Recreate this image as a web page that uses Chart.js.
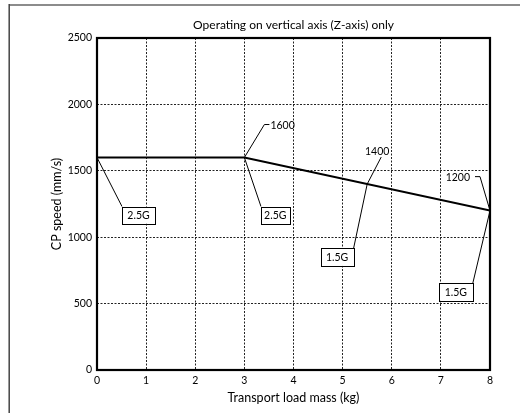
<!DOCTYPE html>
<html>
<head>
<meta charset="utf-8">
<script src="https://cdn.jsdelivr.net/npm/chart.js@4.4.1/dist/chart.umd.min.js"></script>
<style>
  html, body { margin: 0; padding: 0; background: #fff; }
  canvas { display: block; }
</style>
</head>
<body>
<canvas id="chart" width="524" height="413"></canvas>
<script>
// Speed limit curve: transport load mass (kg) vs. CP speed (mm/s)
const massKg = [0, 3, 8];
const cpSpeed = [1600, 1600, 1200];

// Axis ticks
const xTicks = [0, 1, 2, 3, 4, 5, 6, 7, 8];
const yTicks = [0, 500, 1000, 1500, 2000, 2500];

// Speed value callouts
const speedCalloutMass = [3, 5.5, 8];
const speedCalloutValue = [1600, 1400, 1200];

// Acceleration callouts
const accelMass = [0, 3, 5.5, 8];
const accelSpeed = [1600, 1600, 1400, 1200];
const accelLabels = ['2.5G', '2.5G', '1.5G', '1.5G'];

const FONT = 'Lato, "Liberation Sans", sans-serif';

// Leader/label geometry for the value callouts (pixel offsets from the anchor)
const speedCalloutStyle = [
  { elbow: [20, -33], hook: 5, align: 'left', text: [26, -32] },
  { elbow: [14, -27], hook: 0, align: 'center', text: [10, -32] },
  { elbow: [-10, -34], hook: -5, align: 'right', text: [-20, -33] }
];
// Box geometry for the acceleration callouts
const accelStyle = [
  { corner: 'tl', at: [25, 49], w: 33, h: 17 },
  { corner: 'tl', at: [16.6, 49], w: 28.5, h: 17 },
  { corner: 'tr', at: [-13.6, 64.3], w: 33, h: 17.5 },
  { corner: 'tr', at: [-17.2, 72.6], w: 34, h: 17.5 }
];

const framePlugin = {
  id: 'frame',
  beforeDraw(chart) {
    const ctx = chart.ctx;
    ctx.save();
    ctx.strokeStyle = '#8c8c8c';
    ctx.lineWidth = 2;
    ctx.beginPath();
    ctx.moveTo(9, 5);
    ctx.lineTo(520, 5);
    ctx.stroke();
    ctx.strokeStyle = '#444';
    ctx.lineWidth = 1.5;
    ctx.beginPath();
    ctx.moveTo(9.2, 4);
    ctx.lineTo(9.2, 413);
    ctx.stroke();
    ctx.restore();
  },
  beforeDatasetsDraw(chart) {
    const { ctx, chartArea: a } = chart;
    ctx.save();
    ctx.strokeStyle = '#000';
    ctx.lineWidth = 2.2;
    ctx.strokeRect(a.left, a.top, a.right - a.left, a.bottom - a.top);
    ctx.restore();
  }
};

const calloutPlugin = {
  id: 'callouts',
  afterDatasetsDraw(chart) {
    const ctx = chart.ctx;
    const xs = chart.scales.x, ys = chart.scales.y;
    ctx.save();
    ctx.strokeStyle = '#000';
    ctx.fillStyle = '#000';
    ctx.lineWidth = 1;
    ctx.font = '10.5px ' + FONT;
    ctx.textBaseline = 'middle';

    speedCalloutMass.forEach((m, i) => {
      const px = xs.getPixelForValue(m), py = ys.getPixelForValue(speedCalloutValue[i]);
      const s = speedCalloutStyle[i];
      const ex = px + s.elbow[0], ey = py + s.elbow[1];
      ctx.beginPath();
      ctx.moveTo(px, py);
      ctx.lineTo(ex, ey);
      if (s.hook) ctx.lineTo(ex + s.hook, ey);
      ctx.stroke();
      ctx.textAlign = s.align;
      ctx.fillText(String(speedCalloutValue[i]), px + s.text[0], py + s.text[1]);
    });

    accelMass.forEach((m, i) => {
      const px = xs.getPixelForValue(m), py = ys.getPixelForValue(accelSpeed[i]);
      const s = accelStyle[i];
      const cx = px + s.at[0], cy = py + s.at[1];
      const left = s.corner === 'tl' ? cx : cx - s.w;
      ctx.beginPath();
      ctx.moveTo(px, py);
      ctx.lineTo(cx, cy);
      ctx.stroke();
      ctx.fillStyle = '#fff';
      ctx.fillRect(left, cy, s.w, s.h);
      ctx.strokeRect(Math.round(left) + 0.5, Math.round(cy) + 0.5, Math.round(s.w), Math.round(s.h));
      ctx.fillStyle = '#000';
      ctx.textAlign = 'center';
      ctx.fillText(accelLabels[i], left + s.w / 2, cy + s.h / 2 + 0.5);
    });
    ctx.restore();
  }
};

const edgeX = v => (v === xTicks[0] || v === xTicks[xTicks.length - 1]);
const edgeY = v => (v === yTicks[0] || v === yTicks[yTicks.length - 1]);

new Chart(document.getElementById('chart'), {
  type: 'scatter',
  data: {
    datasets: [{
      data: massKg.map((m, i) => ({ x: m, y: cpSpeed[i] })),
      showLine: true,
      borderColor: '#000',
      borderWidth: 2,
      pointRadius: 0,
      pointHoverRadius: 0,
      tension: 0
    }]
  },
  options: {
    responsive: false,
    animation: false,
    devicePixelRatio: 1,
    layout: { padding: { left: 0, right: 34, top: 0, bottom: 0 } },
    plugins: {
      legend: { display: false },
      tooltip: { enabled: false },
      title: {
        display: true,
        text: 'Operating on vertical axis (Z-axis) only',
        fullSize: false,
        color: '#000',
        font: { family: FONT, size: 12, weight: 'normal' },
        padding: { top: 17.8, bottom: 5.8 }
      }
    },
    scales: {
      x: {
        type: 'linear',
        min: xTicks[0],
        max: xTicks[xTicks.length - 1],
        afterBuildTicks: s => { s.ticks = xTicks.map(v => ({ value: v })); },
        afterFit: s => { s.height = 43; },
        grid: {
          drawTicks: false,
          color: c => edgeX(c.tick && c.tick.value) ? 'rgba(0,0,0,0)' : '#222',
          lineWidth: 1
        },
        border: { display: false, dash: [2, 1.5] },
        ticks: { color: '#000', padding: 4, font: { family: FONT, size: 10.5 }, callback: v => String(v) },
        title: {
          display: true,
          text: 'Transport load mass (kg)',
          color: '#000',
          font: { family: FONT, size: 12.5 },
          padding: { top: 0, bottom: 7.8 }
        }
      },
      y: {
        type: 'linear',
        min: yTicks[0],
        max: yTicks[yTicks.length - 1],
        afterBuildTicks: s => { s.ticks = yTicks.map(v => ({ value: v })); },
        afterFit: s => { s.width = 97; },
        grid: {
          drawTicks: false,
          color: c => edgeY(c.tick && c.tick.value) ? 'rgba(0,0,0,0)' : '#222',
          lineWidth: 1
        },
        border: { display: false, dash: [2, 1.5] },
        ticks: { color: '#000', padding: 5, font: { family: FONT, size: 10.5 }, callback: v => String(v) },
        title: {
          display: true,
          text: 'CP speed (mm/s)',
          color: '#000',
          font: { family: FONT, size: 12.5 },
          padding: { top: 49.5, bottom: 0 }
        }
      }
    }
  },
  plugins: [framePlugin, calloutPlugin]
});
</script>
</body>
</html>
